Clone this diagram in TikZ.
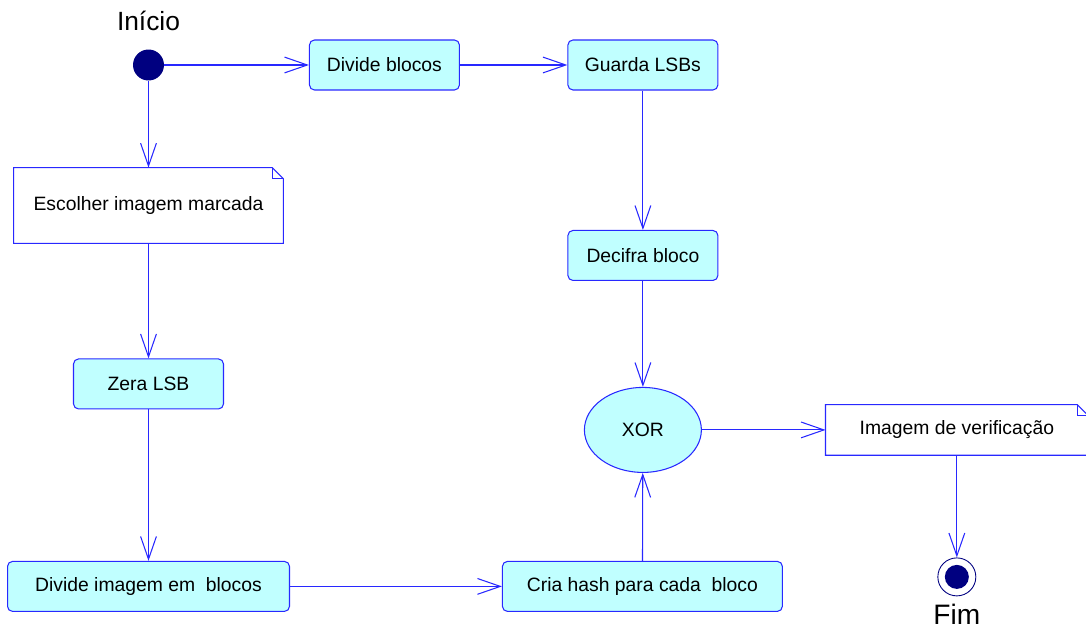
\documentclass[tikz,border=0pt]{standalone}
\usepackage{fontspec}
\setmainfont{Liberation Sans}
\usetikzlibrary{arrows.meta,positioning,shapes.geometric}
\definecolor{umlblue}{RGB}{40,40,255}
\definecolor{umlfill}{RGB}{192,255,255}
\definecolor{umlnavy}{RGB}{0,0,128}
\newcommand{\drawnote}[1]{%
  \draw[notestroke] (#1.south west) -- (#1.north west) -- ([xshift=-0.22cm]#1.north east)
    -- ([yshift=-0.22cm]#1.north east) -- (#1.south east) -- cycle;
  \draw[notestroke] ([xshift=-0.22cm]#1.north east) -- ([xshift=-0.22cm,yshift=-0.22cm]#1.north east)
    -- ([yshift=-0.22cm]#1.north east);}
\tikzset{
  act/.style={rectangle, rounded corners=0.1cm, draw=umlblue, fill=umlfill, line width=0.6pt,
    minimum width=3cm, minimum height=1cm, font=\fontsize{11}{13}\selectfont},
  notebox/.style={rectangle, fill=white, minimum height=1cm, font=\fontsize{11}{13}\selectfont},
  notestroke/.style={draw=umlblue, line width=0.6pt},
  xorshape/.style={ellipse, draw=umlblue, fill=umlfill, line width=0.6pt, inner sep=0pt,
    minimum width=2.34cm, minimum height=1.7cm, font=\fontsize{11}{13}\selectfont},
  startdot/.style={circle, fill=umlnavy, minimum size=0.62cm, inner sep=0pt},
  enddot/.style={circle, draw=umlnavy, line width=0.5pt, minimum size=0.76cm, inner sep=0pt,
    path picture={\fill[umlnavy] (path picture bounding box.center) circle (0.24cm);}},
  flow/.style={draw=umlblue, line width=0.6pt, -{Straight Barb[length=13pt,width=9pt]}}
}
\begin{document}
\begin{tikzpicture}[x=0.02cm, y=-0.02cm, on grid, every edge/.style={flow}]
  \clip (0,0) rectangle (1086,628);
  \useasboundingbox (0,0) rectangle (1086,628);

  \node[startdot, label={[font=\fontsize{15}{18}\selectfont, label distance=0.24cm]90:Início}] (start) at (148.5,65) {};
  \node[act, right=4.72cm of start] (divblocos) {Divide blocos};
  \node[act, right=5.17cm of divblocos] (guarda) {Guarda LSBs};
  \node[notebox, minimum width=5.38cm, minimum height=1.5cm, below=2.81cm of start] (escolher) {Escolher imagem marcada};
  \node[act, below=3.81cm of guarda] (decifra) {Decifra bloco};
  \node[act, below=3.57cm of escolher] (zera) {Zera LSB};
  \node[xorshape, below=3.49cm of decifra] (xor) {XOR};
  \node[notebox, minimum width=5.24cm, right=6.28cm of xor] (imagem) {Imagem de verificação};
  \node[act, minimum width=5.64cm, below=4.05cm of zera] (divimg) {Divide imagem em\ \ blocos};
  \node[act, minimum width=5.6cm, right=9.88cm of divimg] (cria) {Cria hash para cada\ \ bloco};
  \node[enddot, below=2.94cm of imagem, label={[font=\fontsize{16}{19}\selectfont, label distance=0.04cm]270:Fim}] (fim) {};

  \drawnote{escolher}
  \drawnote{imagem}

  \path (start) edge (divblocos)
    (start) edge (escolher)
    (divblocos) edge (guarda);

  \path (guarda) edge (decifra)
    (decifra) edge (xor);

  \path (escolher) edge (zera)
    (zera) edge (divimg)
    (divimg) edge (cria);

  \path (cria) edge (xor)
    (xor) edge (imagem)
    (imagem) edge (fim);
\end{tikzpicture}
\end{document}
